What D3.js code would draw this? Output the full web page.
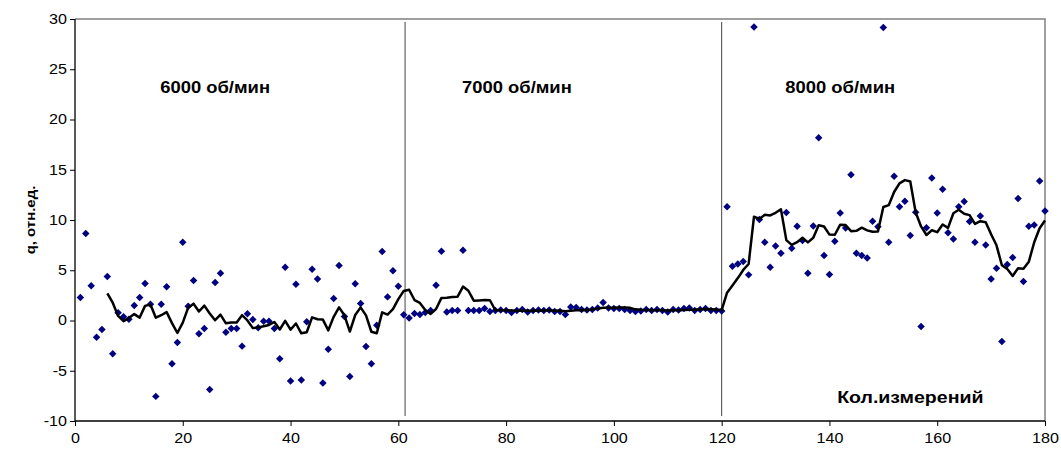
<!DOCTYPE html>
<html>
<head>
<meta charset="utf-8">
<script src="https://cdn.jsdelivr.net/npm/d3@7"></script>
<style>
  body { margin: 0; background: #fff; }
  text { font-family: "Liberation Sans", Arial, sans-serif; }
</style>
</head>
<body>
<svg id="chart" width="1061" height="450"></svg>
<script>
// measured q values, one per measurement (measurement number = index + 1)
const qValues = [
  2.3, 8.65, 3.45, -1.66, -0.9, 4.37, -3.3, 0.76, 0.37, 0.13,
  1.49, 2.29, 3.68, 1.62, -7.55, 1.62, 3.35, -4.3, -2.19, 7.78,
  1.42, 3.98, -1.33, -0.8, -6.86, 3.78, 4.7, -1.16, -0.8, -0.8,
  -2.55, 0.66, 0.1, -0.73, -0.07, -0.07, -0.8, -3.8, 5.3, -6.03,
  3.6, -5.93, -0.13, 5.1, 4.14, -6.23, -2.85, 2.19, 5.47, 0.4,
  -5.57, 3.65, 1.69, -2.58, -4.3, -0.47, 6.86, 2.35, 4.94, 3.41,
  0.57, 0.25, 0.7, 0.6, 0.8, 1.0, 3.5, 6.9, 0.85, 1.0,
  1.0, 7.0, 1.0, 1.0, 1.0, 1.2, 0.9, 1.0, 1.05, 1.0,
  0.8, 1.0, 1.1, 0.85, 1.0, 1.05, 1.0, 1.05, 0.9, 0.9,
  0.6, 1.35, 1.3, 1.1, 1.05, 1.1, 1.25, 1.8, 1.25, 1.2,
  1.2, 1.1, 1.0, 0.9, 0.95, 1.1, 1.0, 1.1, 1.0, 0.85,
  1.1, 1.05, 1.2, 1.25, 1.0, 1.1, 1.2, 1.0, 1.0, 0.95,
  11.33, 5.4, 5.63, 5.87, 4.54, 29.2, 10.04, 7.79, 5.3, 7.42,
  6.69, 10.74, 7.19, 9.38, 7.95, 4.7, 9.41, 18.19, 6.46, 4.57,
  7.88, 10.7, 9.21, 14.5, 6.69, 6.46, 6.23, 9.87, 9.34, 29.16,
  7.79, 14.35, 11.33, 11.86, 8.45, 10.77, -0.6, 9.24, 14.18, 10.7,
  13.05, 8.72, 8.12, 11.33, 11.83, 9.84, 7.79, 10.4, 7.52, 4.14,
  5.2, -2.09, 5.57, 6.26, 12.13, 3.88, 9.38, 9.51, 13.88, 10.9
];

// moving average trendline period (as in the original spreadsheet chart)
const trendPeriod = 6;

// borders between speed regimes (measurement number)
const regimeBorders = [61.25, 120];
const regimeLabels = ["6000 об/мин", "7000 об/мин", "8000 об/мин"];
const regimeLabelX = [26, 82, 142];

const xTicks = [0, 20, 40, 60, 80, 100, 120, 140, 160, 180];
const yTicks = [-10, -5, 0, 5, 10, 15, 20, 25, 30];

// the original text is a little wider than Arial
const stretch = 1.15;

const margin = { top: 19, right: 16, bottom: 29, left: 75 },
  width = 1061 - margin.left - margin.right,
  height = 450 - margin.top - margin.bottom;

const svg = d3.select("#chart")
  .append("g")
  .attr("transform", `translate(${margin.left},${margin.top})`);

const x = d3.scaleLinear().domain([0, 180]).range([0, width]);
const y = d3.scaleLinear().domain([-10, 30]).range([height, 0]);

const points = qValues.map((v, i) => ({ n: i + 1, q: v }));

// trendline: mean of the last trendPeriod points
const trend = points.slice(trendPeriod - 1).map((d, i) => ({
  n: d.n,
  q: d3.mean(qValues.slice(i, i + trendPeriod))
}));

// plot frame (top and right)
svg.append("path")
  .attr("d", `M0,0H${width}V${height}`)
  .attr("fill", "none")
  .attr("stroke", "#808080")
  .attr("stroke-width", 1.5);

// axes (plain hyphen for negatives, like the original)
const xAxis = svg.append("g")
  .attr("transform", `translate(0,${height})`)
  .call(d3.axisBottom(x).tickValues(xTicks).tickFormat(d => String(d)).tickSize(5).tickPadding(7));
const yAxis = svg.append("g")
  .call(d3.axisLeft(y).tickValues(yTicks).tickFormat(d => String(d)).tickSize(5).tickPadding(8));

[xAxis, yAxis].forEach(a => {
  a.select(".domain").attr("stroke", "#000").attr("stroke-width", 1.3);
  a.selectAll(".tick line").attr("stroke", "#000");
  a.selectAll(".tick text")
    .attr("font-family", '"Liberation Sans", Arial, sans-serif')
    .attr("font-size", 14)
    .attr("fill", "#000");
});
yAxis.select(".domain").attr("d", `M0,${height}V0`);
xAxis.select(".domain").attr("d", `M0,0H${width}`);

// widen tick labels around their anchor
xAxis.selectAll(".tick text").attr("transform", `scale(${stretch},1)`);
yAxis.selectAll(".tick text")
  .attr("x", -8 / stretch)
  .attr("transform", `scale(${stretch},1)`);

// regime borders
svg.selectAll(".border")
  .data(regimeBorders)
  .join("line")
  .attr("x1", d => x(d)).attr("x2", d => x(d))
  .attr("y1", y(29.7)).attr("y2", y(-9.5))
  .attr("stroke", "#444")
  .attr("stroke-width", 1);

// scatter points
svg.selectAll(".pt")
  .data(points)
  .join("path")
  .attr("d", d3.symbol(d3.symbolSquare, 28))
  .attr("transform", d => `translate(${x(d.n)},${y(d.q)}) rotate(45)`)
  .attr("fill", "#000080");

// trendline
svg.append("path")
  .datum(trend)
  .attr("fill", "none")
  .attr("stroke", "#000")
  .attr("stroke-width", 2.5)
  .attr("stroke-linejoin", "round")
  .attr("d", d3.line().x(d => x(d.n)).y(d => y(d.q)));

// regime labels
svg.selectAll(".regime")
  .data(regimeLabels)
  .join("text")
  .attr("transform", (d, i) => `translate(${x(regimeLabelX[i])},${y(22.6)}) scale(${stretch},1)`)
  .attr("text-anchor", "middle")
  .attr("font-size", 16)
  .attr("font-weight", "bold")
  .text(d => d);

// x axis title inside the plot
svg.append("text")
  .attr("transform", `translate(${x(155)},${y(-8.2)}) scale(${stretch},1)`)
  .attr("text-anchor", "middle")
  .attr("font-size", 17)
  .attr("font-weight", "bold")
  .text("Кол.измерений");

// y axis title
svg.append("text")
  .attr("transform", `translate(${-40},${y(10)}) rotate(-90) scale(${stretch},1)`)
  .attr("text-anchor", "middle")
  .attr("font-size", 13)
  .attr("font-weight", "bold")
  .text("q, отн.ед.");
</script>
</body>
</html>
